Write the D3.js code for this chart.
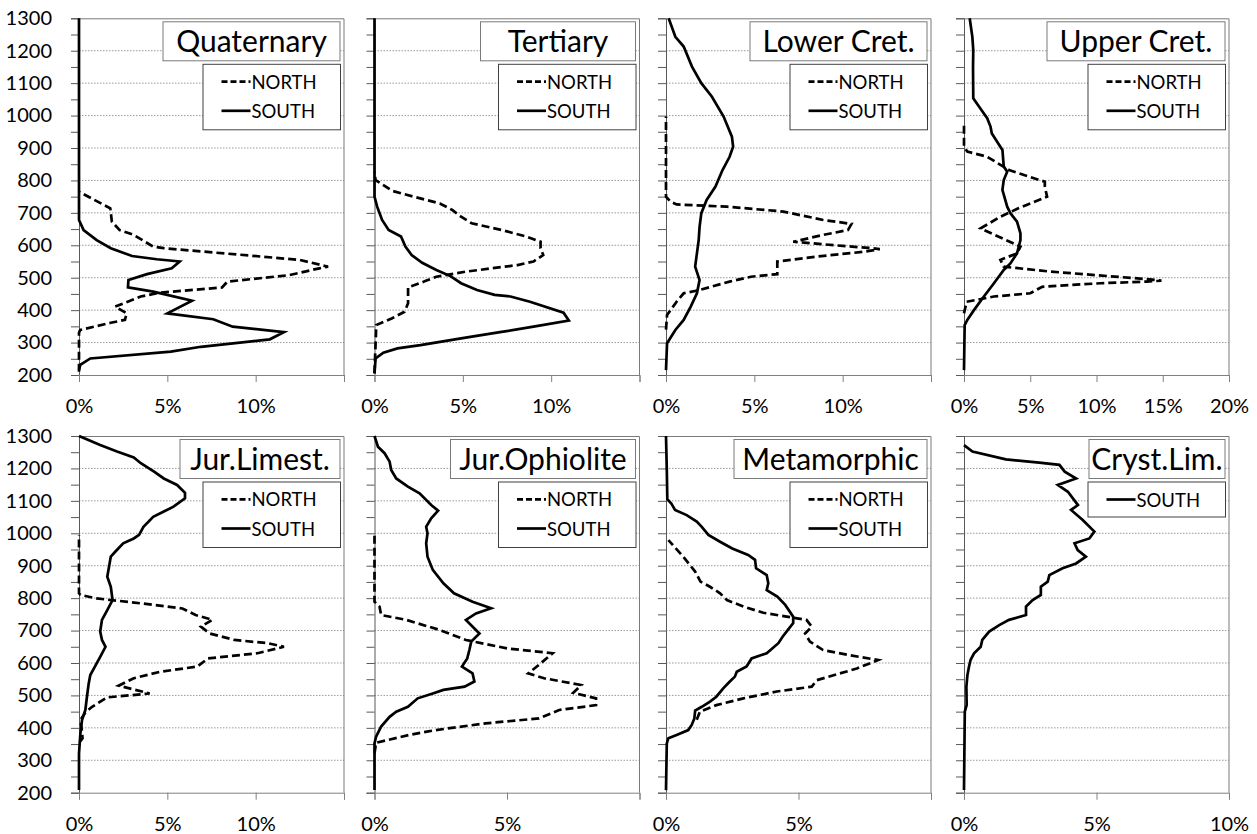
<!DOCTYPE html>
<html><head><meta charset="utf-8">
<script src="https://cdn.jsdelivr.net/npm/d3@7"></script>
<style>
html,body{margin:0;padding:0;background:#fff;}
svg{display:block;font-family:Lato,"Open Sans",sans-serif;}
</style></head>
<body>
<svg id="chart" width="1257" height="834"></svg>
<script>
// ---------------- DATA ----------------
const panelNames = ["Quaternary","Tertiary","Lower Cret.","Upper Cret.","Jur.Limest.","Jur.Ophiolite","Metamorphic","Cryst.Lim."];
const xMaxes = [15,15,15,20,15,10,10,10];
const xTickLabels = [[0,5,10],[0,5,10],[0,5,10],[0,5,10,15,20],[0,5,10],[0,5],[0,5],[0,5,10]];
const elevTickLabels = [200,300,400,500,600,700,800,900,1000,1100,1200,1300];
const seriesNames = ["NORTH","SOUTH"];

// [elevation, percent]
const quaternaryNorth = [[210,0],[330,0],[339,0.07],[361,1.8],[370,2.6],[390,2.7],[411,2.05],[442,3.5],[454,4.6],[470,8.1],[488,8.4],[508,11.9],[529,13.6],[534,14.1],[555,12.5],[591,4.8],[596,4.2],[632,3.1],[647,2.3],[673,1.86],[714,1.77],[765,0]];
const quaternarySouth = [[215,0],[231,0.07],[251,0.64],[272,5.2],[287,6.9],[310,10.8],[332,11.6],[349,8.7],[372,7.6],[390,5.0],[429,6.4],[457,4.2],[470,2.77],[493,2.8],[511,3.85],[529,5.25],[550,5.7],[557,4.4],[567,3.0],[591,1.8],[616,1.0],[647,0.26],[678,0],[1300,0]];
const tertiaryNorth = [[205,0],[354,0.1],[375,1.0],[395,1.7],[421,1.9],[452,1.9],[470,1.9],[488,2.8],[503,3.5],[519,5.2],[539,8.1],[550,9.0],[570,9.55],[591,9.4],[611,9.4],[627,8.6],[647,7.2],[668,5.5],[688,4.9],[709,4.4],[729,3.7],[750,2.2],[768,1.0],[801,0.06],[827,0]];
const tertiarySouth = [[205,0],[251,0.06],[269,0.5],[282,1.3],[292,2.6],[313,4.9],[332,7.1],[349,9.0],[368,11.0],[392,10.7],[426,8.8],[442,7.7],[447,6.8],[462,5.8],[483,4.9],[505,4.3],[524,3.5],[546,2.7],[570,2.1],[596,1.75],[627,1.5],[647,0.8],[678,0.43],[719,0.15],[750,0],[1300,0]];
const lowerCretNorth = [[340,0],[385,0.06],[426,0.6],[452,1.0],[462,1.9],[488,3.6],[503,4.8],[511,6.3],[550,6.3],[565,8.5],[580,11.2],[588,12.1],[592,11.5],[598,10.0],[611,7.2],[632,8.9],[647,10.3],[666,10.5],[678,8.9],[704,6.65],[719,3.45],[726,0.6],[735,0.25],[750,0],[997,0]];
const lowerCretSouth = [[215,0],[298,0.06],[339,0.53],[370,1.0],[411,1.4],[452,1.75],[493,1.9],[534,1.65],[575,1.75],[616,1.85],[657,1.9],[699,2.0],[740,2.3],[781,2.8],[832,3.2],[873,3.6],[904,3.8],[935,3.73],[997,3.26],[1058,2.6],[1100,2.0],[1151,1.47],[1213,1.0],[1243,0.53],[1300,0.15]];
const upperCretNorth = [[390,0],[426,0.2],[442,2.25],[452,5.0],[472,5.9],[483,10.3],[488,13.8],[491,14.9],[495,14.0],[519,6.5],[534,3.0],[555,2.75],[575,4.0],[596,4.26],[652,1.25],[688,2.75],[714,4.1],[750,6.27],[781,6.1],[796,6.1],[832,3.4],[873,1.75],[889,0.25],[904,0],[976,0]];
const upperCretSouth = [[215,0],[354,0.05],[370,0.25],[400,0.75],[442,1.5],[483,2.26],[524,3.0],[544,3.5],[575,4.0],[616,4.26],[637,4.26],[673,4.0],[699,3.5],[719,3.26],[771,2.9],[801,3.0],[827,3.26],[843,3.0],[894,2.9],[945,2.1],[966,2.0],[992,1.75],[1028,1.13],[1053,0.7],[1151,0.68],[1202,0.7],[1243,0.63],[1300,0.43]];
const jurLimestNorth = [[357,0.04],[368,0.2],[388,0.17],[424,0.08],[447,0.36],[465,0.74],[494,1.6],[506,4.0],[530,2.25],[553,3.1],[573,4.6],[589,6.7],[614,7.3],[630,10.1],[650,11.6],[661,10.7],[671,8.8],[691,7.4],[712,6.9],[733,7.55],[748,6.6],[768,5.85],[784,3.5],[799,1.0],[810,0.08],[815,0],[995,0]];
const jurLimestSouth = [[208,0],[321,0],[383,0.08],[424,0.17],[455,0.36],[496,0.45],[537,0.55],[563,0.64],[589,0.9],[619,1.2],[650,1.5],[671,1.3],[697,1.2],[733,1.3],[763,1.6],[794,1.9],[835,1.8],[866,1.6],[897,1.7],[928,1.8],[943,2.05],[969,2.5],[984,3.1],[995,3.4],[1020,3.65],[1051,4.2],[1067,4.8],[1082,5.35],[1108,6.0],[1125,6.0],[1149,5.55],[1169,4.8],[1190,4.25],[1216,3.5],[1234,3.1],[1252,2.15],[1272,1.2],[1300,0]];
const jurOphioliteNorth = [[321,0],[354,0.06],[378,1.3],[393,2.3],[414,4.2],[429,6.2],[455,6.97],[470,8.36],[491,8.36],[508,7.5],[532,7.8],[553,6.4],[568,5.8],[594,6.2],[630,6.72],[645,5.0],[671,3.45],[702,2.45],[733,1.2],[748,0.25],[774,0.19],[789,0],[995,0]];
const jurOphioliteSouth = [[208,0],[352,0],[373,0.06],[404,0.25],[434,0.57],[450,0.82],[465,1.26],[491,1.63],[506,2.2],[517,2.6],[527,3.4],[543,3.77],[568,3.7],[589,3.3],[614,3.5],[640,3.58],[666,3.65],[691,3.96],[733,3.45],[753,3.83],[769,4.4],[789,3.7],[815,3.0],[846,2.6],[887,2.2],[928,2.0],[969,1.95],[1000,2.0],[1020,1.95],[1046,2.14],[1070,2.4],[1087,2.14],[1123,1.7],[1144,1.26],[1169,0.82],[1195,0.63],[1221,0.57],[1247,0.38],[1267,0.13],[1300,0]];
const metamorphicNorth = [[425,1.16],[450,1.28],[470,1.9],[491,2.92],[512,4.18],[527,5.5],[547,5.69],[583,7.2],[609,8.0],[624,6.94],[640,5.93],[666,5.43],[691,5.25],[712,5.5],[733,5.3],[743,4.55],[755,3.67],[774,2.92],[794,2.3],[815,2.04],[835,1.66],[851,1.3],[882,1.1],[928,0.65],[979,0.09]];
const metamorphicSouth = [[208,0],[352,0.03],[368,0.09],[378,0.4],[393,0.84],[409,0.97],[429,1.07],[453,1.1],[465,1.35],[481,1.66],[496,1.9],[522,2.16],[542,2.4],[558,2.6],[573,2.67],[589,3.04],[614,3.23],[630,3.8],[661,4.24],[681,4.4],[702,4.6],[723,4.8],[743,4.8],[779,4.5],[805,4.2],[825,3.8],[846,3.86],[871,3.8],[892,3.4],[918,3.36],[933,3.1],[953,2.5],[974,2.04],[995,1.6],[1020,1.35],[1036,1.16],[1056,0.78],[1072,0.34],[1092,0.2],[1105,0.05],[1195,0.03],[1300,0]];
const crystLimSouth = [[208,0],[450,0.03],[470,0.1],[527,0.09],[563,0.13],[589,0.19],[610,0.25],[630,0.38],[650,0.63],[671,0.69],[697,0.95],[717,1.33],[733,1.7],[748,2.34],[774,2.34],[794,2.59],[810,2.9],[835,2.9],[851,3.16],[871,3.22],[892,3.72],[907,4.23],[928,4.6],[948,4.29],[969,4.17],[984,4.73],[1005,4.92],[1041,4.48],[1072,4.04],[1087,4.3],[1128,3.92],[1149,3.54],[1169,4.23],[1190,3.8],[1211,3.6],[1218,2.84],[1228,1.58],[1252,0.32],[1272,0]];

const northSeries = [quaternaryNorth, tertiaryNorth, lowerCretNorth, upperCretNorth, jurLimestNorth, jurOphioliteNorth, metamorphicNorth, null];
const southSeries = [quaternarySouth, tertiarySouth, lowerCretSouth, upperCretSouth, jurLimestSouth, jurOphioliteSouth, metamorphicSouth, crystLimSouth];

// ---------------- LAYOUT ----------------
const colLeft = [79, 374.5, 666, 964];
const rowTop = [18.3, 436];
const plotW = 265, plotH = 356.7;
const titleBoxW = [177, 155, 177, 178, 160, 185, 193, 136];
const dashPattern = "8,4";
const lineW = 2.7;
const tickFont = "20px", titleFont = "30px", legendFont = "18.5px";

const svg = d3.select("#chart");
svg.append("rect").attr("width",1257).attr("height",834).attr("fill","#fff");

panelNames.forEach((name, i) => {
  const col = i % 4, row = Math.floor(i / 4);
  const x0 = colLeft[col], y0 = rowTop[row];
  const g = svg.append("g").attr("transform", `translate(${x0},${y0})`);
  const x = d3.scaleLinear().domain([0, xMaxes[i]]).range([0, plotW]);
  const y = d3.scaleLinear().domain([200, 1300]).range([plotH, 0]);

  // gridlines
  g.append("g").selectAll("line").data(elevTickLabels.filter(v => v > 200 && v < 1300)).join("line")
    .attr("x1",0).attr("x2",plotW).attr("y1",d=>y(d)).attr("y2",d=>y(d))
    .attr("stroke","#9a9a9a").attr("stroke-width",1).attr("stroke-dasharray","1.5,1.5");

  // plot border (top, right)
  g.append("path").attr("d",`M0,0.5H${plotW}V${plotH}`).attr("fill","none").attr("stroke","#7a7a7a").attr("stroke-width",1);

  // y axis
  const yAxis = d3.axisLeft(y).tickValues(d3.range(200,1301,50)).tickSize(8).tickFormat(d => (col===0 && d%100===0) ? d : "");
  const ya = g.append("g").call(yAxis);
  ya.attr("font-family","Lato");
  ya.select(".domain").attr("stroke","#595959");
  ya.selectAll(".tick line").attr("stroke","#595959");
  ya.selectAll(".tick text").attr("font-size",tickFont).attr("fill","#000").attr("x",-27);

  // x axis
  const xt = d3.range(0, xMaxes[i] + 0.01, 5);
  const xAxis = d3.axisBottom(x).tickValues(xt).tickSize(7).tickFormat(d => xTickLabels[i].includes(d) ? d + "%" : "");
  const xa = g.append("g").attr("transform",`translate(0,${plotH})`).call(xAxis);
  xa.attr("font-family","Lato");
  xa.select(".domain").attr("stroke","#808080");
  xa.selectAll(".tick line").attr("stroke","#808080");
  xa.selectAll(".tick text").attr("font-size",tickFont).attr("fill","#000").attr("y",24);

  // lines
  const line = d3.line().x(d => x(d[1])).y(d => y(d[0]));
  if (northSeries[i]) {
    g.append("path").datum(northSeries[i]).attr("d", line).attr("fill","none")
      .attr("stroke","#000").attr("stroke-width",lineW).attr("stroke-dasharray",dashPattern);
  }
  g.append("path").datum(southSeries[i]).attr("d", line).attr("fill","none")
    .attr("stroke","#000").attr("stroke-width",lineW);

  // title box
  const bw = titleBoxW[i], bx = plotW - 4 - bw;
  g.append("rect").attr("x", bx).attr("y",3.5).attr("width", bw).attr("height",39)
    .attr("fill","#fff").attr("stroke","#7a7a7a").attr("stroke-width",1);
  g.append("text").text(name).attr("font-size",titleFont).attr("fill","#000")
    .attr("text-anchor","middle").attr("x", bx + bw / 2).attr("y", 3.5 + 30);

  // legend box
  const entries = northSeries[i] ? seriesNames : ["SOUTH"];
  const lb = g.append("g").attr("transform",`translate(${plotW - 3.5 - 137.5},46)`);
  lb.append("rect").attr("width",137.5).attr("height", entries.length === 2 ? 65.5 : 35)
    .attr("fill","#fff").attr("stroke","#404040").attr("stroke-width",1);
  entries.forEach((s, k) => {
    const cy = entries.length === 2 ? (k === 0 ? 17.4 : 46.5) : 17.5;
    lb.append("line").attr("x1",18.5).attr("x2",47.5).attr("y1",cy).attr("y2",cy)
      .attr("stroke","#000").attr("stroke-width",lineW)
      .attr("stroke-dasharray", s === "NORTH" ? "6,3" : null);
    lb.append("text").text(s).attr("x",48.5).attr("y",cy + 7).attr("font-size",legendFont).attr("fill","#000");
  });
});
</script>
</body></html>
